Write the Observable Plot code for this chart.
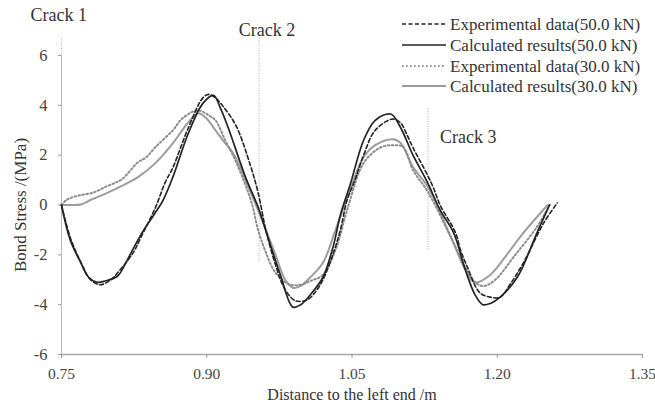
<!DOCTYPE html>
<html><head><meta charset="utf-8">
<script src="https://cdn.jsdelivr.net/npm/d3@7"></script>
<script src="https://cdn.jsdelivr.net/npm/@observablehq/plot@0.6"></script>
<style>
body{margin:0;background:#fff;}
#wrap{position:relative;width:655px;height:406px;font-family:"Liberation Serif",serif;}
#legend{position:absolute;left:0;top:0;}
</style></head><body><div id="wrap"></div>
<script>
// Series: Experimental data (50.0 kN)
const exp50X=[0.750,0.759,0.770,0.780,0.790,0.801,0.808,0.824,0.832,0.847,0.857,0.865,0.881,0.896,0.902,0.909,0.916,0.930,0.945,0.953,0.961,0.971,0.981,0.992,1.004,1.012,1.020,1.031,1.038,1.045,1.053,1.062,1.074,1.092,1.100,1.107,1.113,1.128,1.134,1.141,1.157,1.162,1.169,1.182,1.193,1.203,1.213,1.227,1.248,1.262];
const exp50Y=[0,-1.3,-2.3,-3.0,-3.2,-3.0,-2.72,-1.92,-1.3,-0.1,0.9,1.5,3.1,4.3,4.44,4.3,4.0,3.2,1.6,0.5,-1.0,-2.4,-3.4,-3.85,-3.8,-3.5,-3.0,-1.9,-1.0,0.2,1.0,2.0,3.0,3.45,3.3,2.8,2.3,1.2,0.7,0.0,-1.12,-1.8,-2.48,-3.52,-3.7,-3.7,-3.2,-2.32,-0.72,0.08];
// Series: Calculated results (50.0 kN)
const calc50X=[0.750,0.759,0.770,0.778,0.787,0.795,0.808,0.818,0.829,0.835,0.847,0.855,0.865,0.881,0.896,0.907,0.914,0.922,0.940,0.953,0.964,0.976,0.989,0.997,1.007,1.020,1.031,1.038,1.048,1.062,1.074,1.090,1.100,1.113,1.128,1.141,1.155,1.167,1.177,1.185,1.193,1.203,1.221,1.241,1.254];
const calc50Y=[0,-1.4,-2.32,-2.9,-3.1,-3.05,-2.85,-2.2,-1.4,-1.0,-0.3,0.2,1.12,2.88,4.08,4.4,3.9,3.12,1.12,-0.08,-1.4,-2.8,-4.1,-4.0,-3.6,-2.9,-1.6,-0.4,0.8,2.6,3.4,3.65,3.12,2.0,0.9,-0.2,-1.12,-2.6,-3.6,-4.0,-3.95,-3.7,-2.88,-1.12,0];
// Series: Experimental data (30.0 kN)
const exp30X=[0.750,0.755,0.759,0.770,0.783,0.795,0.806,0.813,0.829,0.837,0.847,0.865,0.875,0.891,0.902,0.909,0.919,0.930,0.940,0.947,0.953,0.961,0.969,0.978,0.986,0.997,1.007,1.020,1.033,1.045,1.062,1.079,1.093,1.103,1.113,1.128,1.152,1.167,1.177,1.186,1.198,1.217,1.241,1.254];
const exp30Y=[0,0.2,0.28,0.4,0.5,0.72,0.9,1.05,1.72,1.9,2.32,3.0,3.48,3.8,3.6,3.4,2.6,1.75,0.8,0.0,-1.0,-1.9,-2.6,-3.0,-3.2,-3.2,-3.05,-2.8,-1.8,-0.2,1.68,2.3,2.4,2.32,1.4,0.55,-1.28,-2.5,-3.1,-3.25,-3.0,-2.08,-0.88,0];
// Series: Calculated results (30.0 kN)
const calc30X=[0.750,0.759,0.770,0.780,0.795,0.818,0.829,0.847,0.865,0.881,0.891,0.899,0.909,0.919,0.927,0.943,0.957,0.971,0.981,0.989,0.997,1.007,1.020,1.033,1.048,1.062,1.074,1.092,1.100,1.113,1.128,1.152,1.167,1.175,1.180,1.193,1.200,1.227,1.252];
const calc30Y=[0,0,0.02,0.2,0.45,0.88,1.12,1.68,2.48,3.32,3.68,3.5,3.0,2.48,2.1,0.72,-0.6,-2.0,-3.0,-3.32,-3.25,-2.9,-2.32,-1.0,0.6,1.92,2.4,2.64,2.5,1.52,0.75,-1.28,-2.6,-3.08,-3.1,-2.8,-2.5,-1.12,0];

const seriesNames=["Experimental data(50.0 kN)","Calculated results(50.0 kN)","Experimental data(30.0 kN)","Calculated results(30.0 kN)"];
const xTicks=[0.75,0.90,1.05,1.20,1.35];
const yTicks=[-6,-4,-2,0,2,4,6];
const crackNames=["Crack 1","Crack 2","Crack 3"];
const crackX=[0.75,0.954,1.1286];
const crackTop=[6.72,6.72,3.92];
const crackBottom=[-6,-2.28,-1.8];
const xTitle="Distance to the left end /m";
const yTitle="Bond Stress /(MPa)";

const styles=[
  {stroke:"#222",strokeWidth:1.6,strokeDasharray:"4,2.5"},
  {stroke:"#222",strokeWidth:1.7,strokeDasharray:null},
  {stroke:"#8c8c8c",strokeWidth:2,strokeDasharray:"1.6,2.4"},
  {stroke:"#9c9c9c",strokeWidth:2,strokeDasharray:null}
];
const sets=[[exp50X,exp50Y],[calc50X,calc50Y],[exp30X,exp30Y],[calc30X,calc30Y]];
const order=[3,2,1,0];
const lineMarks=order.map(i=>{
  const data=sets[i][0].map((x,j)=>({x,y:sets[i][1][j]}));
  const s=styles[i];
  return Plot.line(data,{x:"x",y:"y",curve:"catmull-rom",stroke:s.stroke,strokeWidth:s.strokeWidth,strokeDasharray:s.strokeDasharray||undefined});
});
const cracks=crackNames.map((n,i)=>({name:n,x:crackX[i],y1:crackBottom[i],y2:crackTop[i]}));
const crackLabelPos=[{x:0.718,y:7.6},{x:0.933,y:7.0},{x:1.141,y:2.72}];
const crackLabels=crackNames.map((n,i)=>({name:n,...crackLabelPos[i]}));

const chart=Plot.plot({
  width:655,height:406,
  marginLeft:61,marginRight:13,marginTop:55,marginBottom:52,
  style:{fontFamily:"'Liberation Serif',serif",fontSize:"16px",color:"#333",background:"#fff"},
  x:{domain:[0.75,1.35],label:null},
  y:{domain:[-6,6],label:null},
  marks:[
    Plot.ruleY([-6],{stroke:"#a8a8a8",strokeWidth:1.5}),
    Plot.ruleX([0.75],{stroke:"#c0c0c0",strokeWidth:1}),
    Plot.axisX({ticks:xTicks,tickFormat:d3.format(".2f"),tickSize:4,tickPadding:9,stroke:"#999",fill:"#444",fontSize:15.5}),
    Plot.axisY({ticks:yTicks,tickFormat:d=>String(d),tickSize:3,tickPadding:11,stroke:"#999",fill:"#444",fontSize:16.5}),
    Plot.ruleX(cracks,{x:"x",y1:"y1",y2:"y2",stroke:"#aaa",strokeWidth:1,strokeDasharray:"1,1.5"}),
    ...lineMarks,
    Plot.text(crackLabels,{x:"x",y:"y",text:"name",textAnchor:"start",fontSize:18,fill:"#333"}),
    Plot.text([xTitle],{frameAnchor:"bottom",dy:45,fontSize:16,fill:"#333"}),
    Plot.text([yTitle],{frameAnchor:"left",textAnchor:"middle",dx:-41,rotate:-90,fontSize:17,fill:"#333"})
  ]
});
const wrap=document.getElementById("wrap");
wrap.appendChild(chart);

const leg=d3.select(wrap).append("svg").attr("id","legend").attr("width",655).attr("height",100);
const rowsY=[24,45,66,86];
seriesNames.forEach((n,i)=>{
  const s=styles[i];
  leg.append("line").attr("x1",402).attr("x2",446).attr("y1",rowsY[i]).attr("y2",rowsY[i])
    .attr("stroke",s.stroke).attr("stroke-width",s.strokeWidth).attr("stroke-dasharray",s.strokeDasharray);
  leg.append("text").attr("x",450).attr("y",rowsY[i]).attr("dy","0.35em")
    .attr("font-family","'Liberation Serif',serif").attr("font-size",17).attr("fill","#333").text(n);
});
</script></body></html>
